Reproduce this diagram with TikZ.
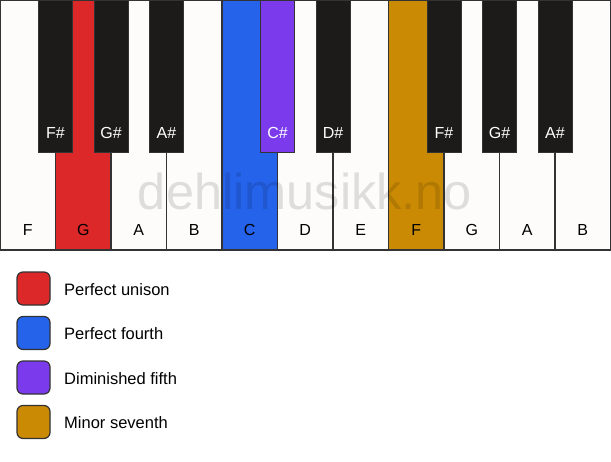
\documentclass[tikz,border=0pt]{standalone}
\usepackage{fontspec}
\setmainfont{Liberation Sans}
\usetikzlibrary{calc}
\definecolor{keywhite}{HTML}{FDFCFA}
\definecolor{keyblack}{HTML}{1C1B1A}
\definecolor{keyred}{HTML}{DC2828}
\definecolor{keyblue}{HTML}{2563EB}
\definecolor{keypurple}{HTML}{7C3AED}
\definecolor{keygold}{HTML}{CA8A04}
\definecolor{keyline}{HTML}{333333}
\begin{document}
\begin{tikzpicture}[x=1pt,y=-1pt,
  whitekey/.style={draw=keyline,line width=1.2pt,fill=keywhite,minimum width=55.5pt,minimum height=250pt,inner sep=0pt,outer sep=0pt},
  blackkey/.style={draw=keyline,line width=1pt,fill=keyblack,minimum width=34pt,minimum height=152pt,inner sep=0pt,outer sep=0pt},
  wlabel/.style={font=\fontsize{16}{18}\selectfont,text=black,anchor=center},
  blabel/.style={font=\fontsize{16}{18}\selectfont,text=white,anchor=center},
  legbox/.style={draw=keyline,line width=1.2pt,rounded corners=6pt,minimum width=33pt,minimum height=33pt,inner sep=0pt},
  legtext/.style={font=\fontsize{16.5}{19}\selectfont,anchor=west,text=black,inner sep=0pt}]
\useasboundingbox (0,0) rectangle (611,461);
\fill[white] (0,0) rectangle (611,461);
% white keys
\foreach \i/\n/\c in {0/F/keywhite,1/G/keyred,2/A/keywhite,3/B/keywhite,4/C/keyblue,5/D/keywhite,6/E/keywhite,7/F/keygold,8/G/keywhite,9/A/keywhite,10/B/keywhite}{
  \node[whitekey,fill=\c] (w\i) at ({55.5*\i+27.75},125) {};
  \node[wlabel] (wl\i) at ($(w\i.south)+(0,-20)$) {\n};
}
% black keys
\foreach \k/\n/\c in {1/F\#/keyblack,2/G\#/keyblack,3/A\#/keyblack,5/C\#/keypurple,6/D\#/keyblack,8/F\#/keyblack,9/G\#/keyblack,10/A\#/keyblack}{
  \node[blackkey,fill=\c] (b\k) at ({55.5*\k},76) {};
  \node[blabel] (bl\k) at ($(b\k.south)+(0,-19)$) {\n};
}
% watermark
\node[font=\fontsize{50.5}{52}\selectfont,text=black,text opacity=0.12] (wm) at (305,191) {dehlimusikk.no};
% legend
\node[legbox,fill=keyred] (l1) at (33.5,288.5) {};
\node[legbox,fill=keyblue] (l2) at (33.5,333) {};
\node[legbox,fill=keypurple] (l3) at (33.5,377.5) {};
\node[legbox,fill=keygold] (l4) at (33.5,422) {};
\node[legtext] (t1) at (64,289.5) {Perfect unison};
\node[legtext] (t2) at (64,334) {Perfect fourth};
\node[legtext] (t3) at (64,378.5) {Diminished fifth};
\node[legtext] (t4) at (64,423) {Minor seventh};
\end{tikzpicture}
\end{document}
